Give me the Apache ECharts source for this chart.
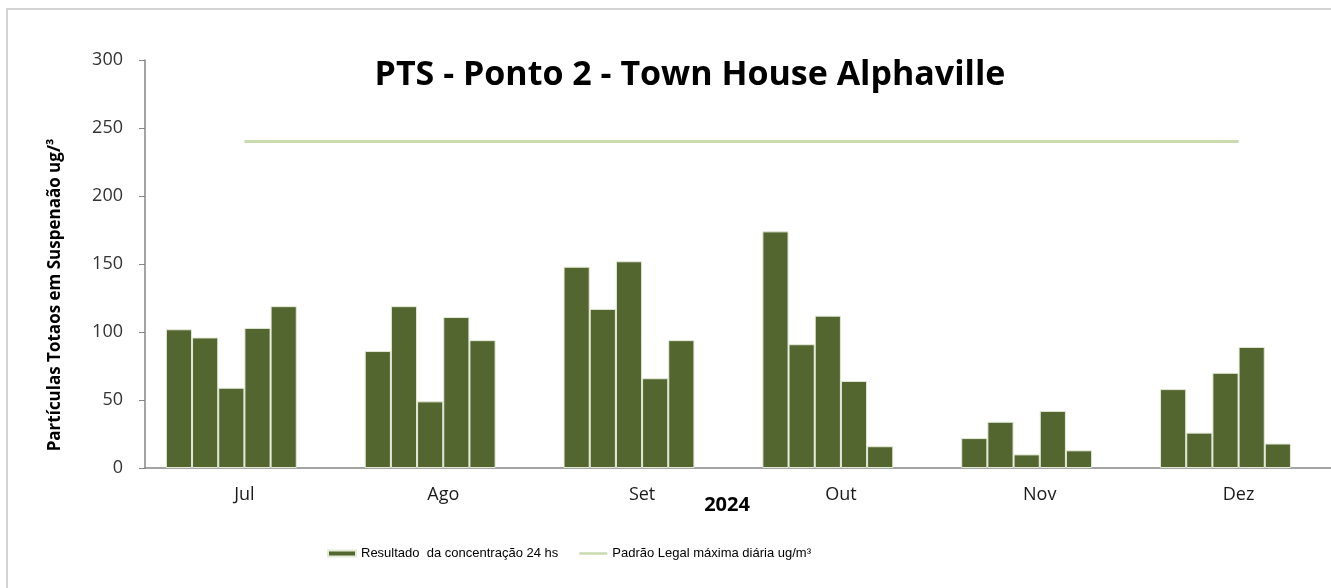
<!DOCTYPE html>
<html>
<head>
<meta charset="utf-8">
<script src="https://cdn.jsdelivr.net/npm/echarts@6/dist/echarts.min.js"></script>
<style>
  html, body { margin: 0; padding: 0; background: #fff; }
  #chart { width: 1331px; height: 588px; }
</style>
</head>
<body>
<div id="chart"></div>
<script>
// months on the x axis
const months = ['Jul', 'Ago', 'Set', 'Out', 'Nov', 'Dez'];
// one array per sample (5 samples per month)
const sample1 = [102, 86, 148, 174, 22, 58];
const sample2 = [96, 119, 117, 91, 34, 26];
const sample3 = [59, 49, 152, 112, 10, 70];
const sample4 = [103, 111, 66, 64, 42, 89];
const sample5 = [119, 94, 94, 16, 13, 18];
const limit = [240, 240, 240, 240, 240, 240];

const barName = 'Resultado  da concentração 24 hs';
const lineName = 'Padrão Legal máxima diária ug/m³';

var chartDom = document.getElementById('chart');
var myChart = echarts.init(chartDom);
var option;

function barSeries(data) {
    return {
        name: barName,
        type: 'bar',
        data: data,
        barGap: '0%',
        barCategoryGap: '21%',
        itemStyle: { color: '#546630', borderColor: '#e4ead8', borderWidth: 1 }
    };
}

option = {
    animation: false,
    textStyle: { fontFamily: '"Open Sans", Lato, sans-serif' },
    graphic: [
        {
            type: 'rect',
            shape: { x: 7, y: 9, width: 1340, height: 600 },
            style: { fill: 'none', stroke: '#d4d4d4', lineWidth: 2 },
            silent: true
        },
        {
            type: 'text',
            x: 690, y: 75,
            style: {
                text: 'PTS - Ponto 2 - Town House Alphaville',
                fontFamily: '"Open Sans", Lato, sans-serif',
                fontWeight: 'bold',
                fontSize: 34,
                fill: '#000',
                textAlign: 'center',
                textVerticalAlign: 'middle'
            }
        },
        {
            type: 'text',
            x: 55, y: 295,
            rotation: Math.PI / 2,
            style: {
                text: 'Partículas Totaos em Suspenaão ug/³',
                fontFamily: '"Open Sans", Lato, sans-serif',
                fontWeight: 'bold',
                fontSize: 17,
                fill: '#000',
                textAlign: 'center',
                textVerticalAlign: 'middle'
            }
        },
        {
            type: 'text',
            x: 727, y: 505,
            style: {
                text: '2024',
                fontFamily: '"Open Sans", Lato, sans-serif',
                fontWeight: 'bold',
                fontSize: 20,
                fill: '#000',
                textAlign: 'center',
                textVerticalAlign: 'middle'
            }
        }
    ],
    legend: {
        left: 322,
        top: 542,
        itemWidth: 28,
        itemHeight: 6,
        itemGap: 21,
        textStyle: {
            fontFamily: '"Liberation Sans", Arial, sans-serif',
            fontSize: 13,
            color: '#000'
        },
        data: [
            { name: barName, icon: 'rect' },
            { name: lineName, icon: 'path://M0,0 L28,0 L28,2.5 L0,2.5 Z' }
        ]
    },
    grid: {
        left: 145,
        top: 60,
        width: 1193,
        height: 408,
        containLabel: false,
        outerBoundsMode: 'none'
    },
    xAxis: {
        type: 'category',
        data: months,
        axisLine: { lineStyle: { color: '#868686', width: 1.5 } },
        axisTick: { length: 6, lineStyle: { color: '#868686' } },
        axisLabel: { fontSize: 18, color: '#1a1a1a', margin: 18 }
    },
    yAxis: {
        type: 'value',
        min: 0,
        max: 300,
        interval: 50,
        axisLine: { show: true, lineStyle: { color: '#868686', width: 1.5 } },
        axisTick: { show: true, length: 6, lineStyle: { color: '#868686' } },
        splitLine: { show: false },
        axisLabel: { fontSize: 18, color: '#333', margin: 22 }
    },
    series: [
        barSeries(sample1),
        barSeries(sample2),
        barSeries(sample3),
        barSeries(sample4),
        barSeries(sample5),
        // empty sixth slot, as in the original layout
        {
            name: 'vazio',
            type: 'bar',
            data: [],
            barGap: '0%',
            barCategoryGap: '21%'
        },
        {
            name: lineName,
            type: 'line',
            data: limit,
            symbol: 'none',
            lineStyle: { color: '#cbdaaf', width: 3 },
            itemStyle: { color: '#cbdaaf' },
            z: 1
        }
    ]
};

option && myChart.setOption(option);
</script>
</body>
</html>
